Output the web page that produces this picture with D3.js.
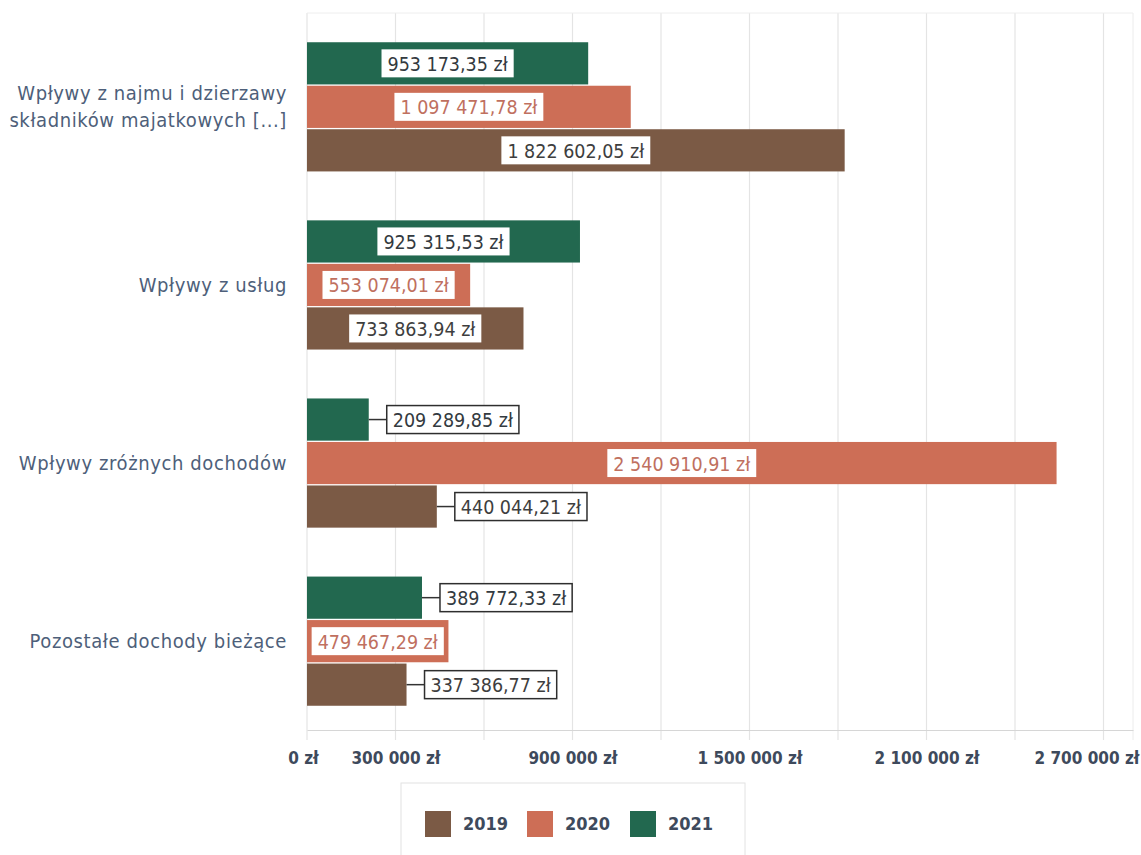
<!DOCTYPE html>
<html><head><meta charset="utf-8">
<script src="https://cdn.jsdelivr.net/npm/d3@7"></script>
<style>
html,body{margin:0;padding:0;background:#fff;}
svg{display:block;}
</style></head>
<body>
<svg id="chart" width="1141" height="855"></svg>
<script>
const categories = [
  ["Wpływy z najmu i dzierzawy", "składników majatkowych [...]"],
  ["Wpływy z usług"],
  ["Wpływy zróżnych dochodów"],
  ["Pozostałe dochody bieżące"]
];
const seriesNames = ["2021", "2020", "2019"];
const values2021 = [953173.35, 925315.53, 209289.85, 389772.33];
const values2020 = [1097471.78, 553074.01, 2540910.91, 479467.29];
const values2019 = [1822602.05, 733863.94, 440044.21, 337386.77];
const gridTicks = [0, 300000, 600000, 900000, 1200000, 1500000, 1800000, 2100000, 2400000, 2700000];
const tickLabels = [0, 300000, 900000, 1500000, 2100000, 2700000];
const legendOrder = ["2019", "2020", "2021"];

const colors = {"2021": "#22684f", "2020": "#cd6e56", "2019": "#7b5a45"};
const labelText = {"2021": "#333a40", "2020": "#c0705f", "2019": "#3e3e3e"};
const seriesValues = {"2021": values2021, "2020": values2020, "2019": values2019};

const svg = d3.select("#chart");
const fontLbl = "'DejaVu Sans Condensed','Liberation Sans Narrow',sans-serif";

function fmt(v){
  const s = v.toFixed(2).split(".");
  const int = s[0].replace(/\B(?=(\d{3})+(?!\d))/g, " ");
  return int + "," + s[1] + " zł";
}
function fmtTick(v){
  return String(v).replace(/\B(?=(\d{3})+(?!\d))/g, " ") + " zł";
}

const x = d3.scaleLinear().domain([0, 2800000]).range([307, 1133]);
const y0 = d3.scaleBand().domain(d3.range(categories.length)).range([16, 732]).paddingInner(0.26).paddingOuter(0.14);
const y1 = d3.scaleBand().domain(seriesNames).range([0, y0.bandwidth()]).padding(0.03);

const plotTop = 13, plotBottom = 730;

// gridlines
svg.append("g").selectAll("line").data(gridTicks).join("line")
  .attr("x1", d => x(d)).attr("x2", d => x(d))
  .attr("y1", plotTop).attr("y2", plotBottom + 10)
  .attr("stroke", "#e4e4e4").attr("stroke-width", 1.2);
svg.append("line").attr("x1", x.range()[1]).attr("x2", x.range()[1])
  .attr("y1", plotTop).attr("y2", plotBottom + 10).attr("stroke", "#ececec");
svg.append("line").attr("x1", x(0)).attr("x2", x.range()[1])
  .attr("y1", plotTop).attr("y2", plotTop).attr("stroke", "#eeeeee");

// x axis
const xAxis = d3.axisBottom(x).tickValues(tickLabels).tickFormat(fmtTick).tickSize(0).tickPadding(22);
const ax = svg.append("g").attr("transform", `translate(0,${plotBottom})`).call(xAxis);
ax.select(".domain").attr("stroke", "#d6d6d6").attr("stroke-width", 1.2);
ax.selectAll("text").attr("font-family", fontLbl).attr("font-size", 17).attr("font-weight", "bold")
  .attr("fill", "#3e4a5c");
// keep edge labels inside the picture
ax.selectAll(".tick").each(function(d){
  const t = d3.select(this).select("text");
  const w = t.node().getComputedTextLength();
  const px = x(d);
  if (px + w / 2 > 1139) t.attr("text-anchor", "end").attr("x", 1139 - px);
  if (d === 0) t.attr("x", -4);
});

// category labels
categories.forEach((lines, i) => {
  const cy = y0(i) + y0.bandwidth() / 2;
  const t = svg.append("text").attr("text-anchor", "end")
    .attr("font-family", fontLbl).attr("font-size", 20).attr("letter-spacing", 0.6).attr("fill", "#4e5f7a");
  lines.forEach((ln, j) => {
    t.append("tspan").attr("x", 287)
      .attr("y", cy + (j - (lines.length - 1) / 2) * 27 + 7).text(ln);
  });
});

// bars
const groups = svg.append("g").selectAll("g").data(categories.map((c, i) => i)).join("g")
  .attr("transform", i => `translate(0,${y0(i)})`);

groups.each(function(i){
  const g = d3.select(this);
  seriesNames.forEach(s => {
    const v = seriesValues[s][i];
    const by = y1(s), bh = y1.bandwidth();
    g.append("rect").attr("x", x(0)).attr("y", by).attr("width", x(v) - x(0)).attr("height", bh)
      .attr("fill", colors[s]);
    const txt = fmt(v);
    const boxH = 28;
    const lbl = g.append("g");
    const tEl = lbl.append("text").attr("font-family", fontLbl).attr("font-size", 19.5)
      .attr("fill", labelText[s]).attr("text-anchor", "middle").attr("dominant-baseline", "central").text(txt);
    const tw = tEl.node().getComputedTextLength();
    const boxW = tw + 12;
    const barW = x(v) - x(0);
    const cyb = by + bh / 2;
    if (barW >= boxW + 4) {
      const cx = (x(0) + x(v)) / 2;
      lbl.insert("rect", "text").attr("x", cx - boxW / 2).attr("y", cyb - boxH / 2)
        .attr("width", boxW).attr("height", boxH).attr("fill", "#fff");
      tEl.attr("x", cx).attr("y", cyb + 1);
    } else {
      const bx = x(v) + 18;
      lbl.insert("line", "text").attr("x1", x(v)).attr("x2", bx).attr("y1", cyb).attr("y2", cyb)
        .attr("stroke", "#333").attr("stroke-width", 1.5);
      lbl.insert("rect", "text").attr("x", bx).attr("y", cyb - boxH / 2)
        .attr("width", boxW).attr("height", boxH).attr("fill", "#fff")
        .attr("stroke", "#2e2e2e").attr("stroke-width", 1.5);
      tEl.attr("x", bx + boxW / 2).attr("y", cyb + 1);
    }
  });
});

// legend
const lg = svg.append("g");
lg.append("rect").attr("x", 401).attr("y", 783).attr("width", 344).attr("height", 80)
  .attr("fill", "#fff").attr("stroke", "#e2e2e2");
const legX = [425, 527, 630];
legendOrder.forEach((s, k) => {
  lg.append("rect").attr("x", legX[k]).attr("y", 811).attr("width", 26).attr("height", 26).attr("fill", colors[s]);
  lg.append("text").attr("x", legX[k] + 38).attr("y", 830).attr("font-family", fontLbl)
    .attr("font-size", 18).attr("font-weight", "bold").attr("fill", "#3e4a5c").text(s);
});
</script>
</body></html>
